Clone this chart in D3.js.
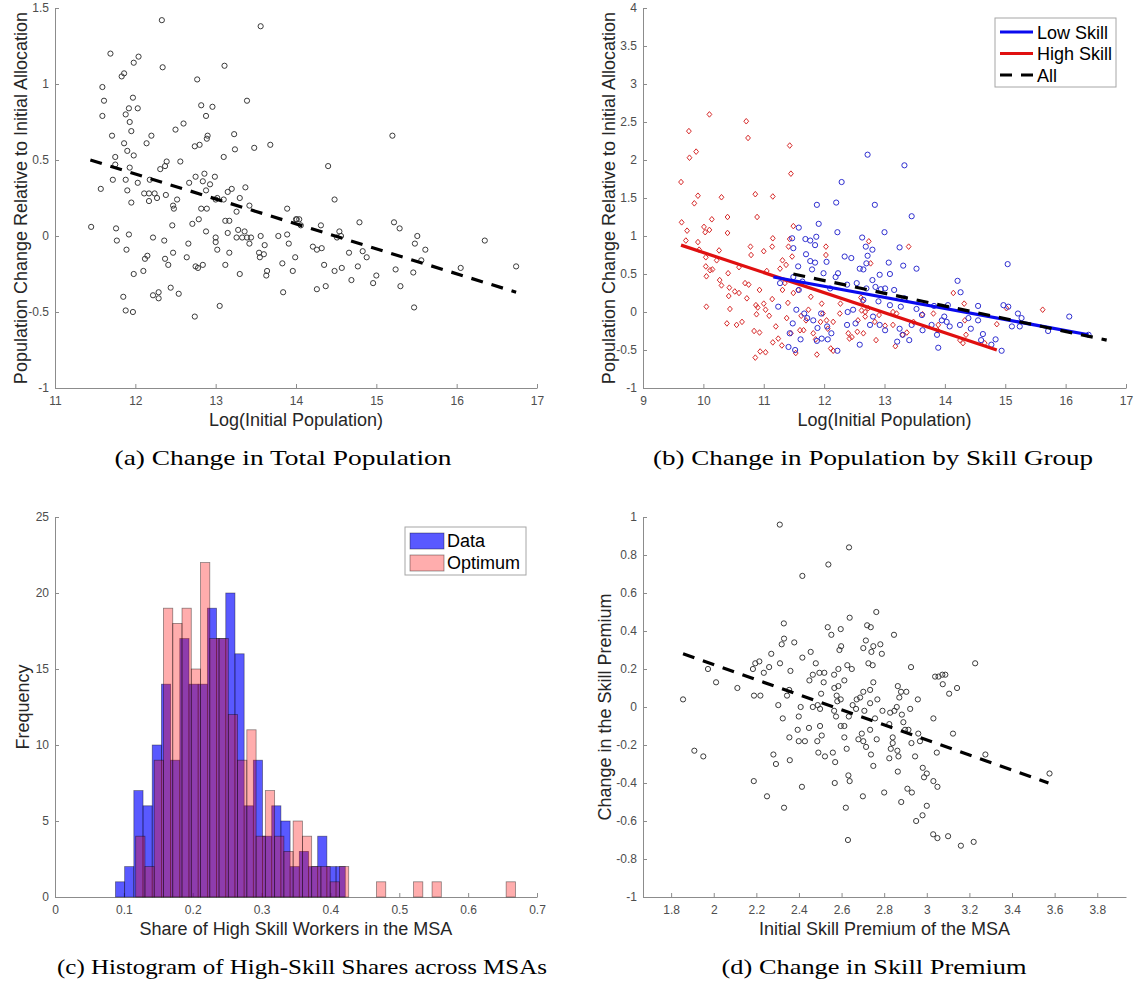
<!DOCTYPE html>
<html>
<head>
<meta charset="utf-8">
<script src="https://cdn.jsdelivr.net/npm/d3@7"></script>
<style>
  body { margin: 0; background: #fff; }
  svg { display: block; }
</style>
</head>
<body>
<script>
// ---- data ----
// (a) change in total population vs log initial population
var popTotal = [
  [12.33,1.42],[13.56,1.38],[11.69,1.20],[12.04,1.18],[11.98,1.14],[11.86,1.07],[11.83,1.05],[12.34,1.11],[13.11,1.12],[12.77,1.03],
  [11.59,0.98],[11.61,0.89],[11.59,0.79],[11.97,0.91],[11.92,0.84],[11.88,0.80],[12.03,0.84],[11.93,0.75],[11.95,0.69],[13.39,0.89],
  [12.82,0.86],[12.96,0.85],[12.88,0.79],[12.60,0.74],[12.50,0.70],[11.71,0.66],[12.20,0.66],[12.14,0.61],[11.86,0.61],[11.90,0.56],
  [11.98,0.53],[11.75,0.52],[12.90,0.66],[12.89,0.64],[12.74,0.59],[12.80,0.60],[13.23,0.67],[13.24,0.57],[13.48,0.58],[13.68,0.60],
  [13.10,0.52],[11.75,0.47],[11.93,0.45],[11.72,0.37],[11.88,0.37],[11.57,0.31],[12.03,0.35],[11.90,0.30],[11.95,0.22],[12.11,0.28],
  [12.17,0.28],[12.24,0.28],[12.17,0.23],[12.27,0.25],[12.18,0.37],[12.31,0.44],[12.37,0.46],[12.39,0.49],[12.56,0.49],[12.38,0.27],
  [12.47,0.20],[12.52,0.24],[12.48,0.18],[12.67,0.35],[12.75,0.39],[12.86,0.41],[12.84,0.36],[12.93,0.34],[12.99,0.39],[12.88,0.30],
  [12.89,0.18],[12.82,0.18],[13.00,0.24],[13.10,0.24],[13.02,0.25],[13.15,0.29],[13.20,0.31],[13.37,0.32],[13.30,0.25],[13.42,0.20],
  [13.26,0.16],[13.12,0.10],[13.17,0.10],[12.79,0.11],[12.71,0.08],[12.46,0.07],[11.45,0.06],[11.76,0.05],[11.92,0.01],[11.77,-0.03],
  [11.89,-0.09],[12.22,-0.01],[12.36,-0.03],[12.66,-0.05],[12.88,0.03],[13.00,-0.01],[13.00,-0.04],[13.02,-0.09],[13.17,-0.11],[13.15,0.02],
  [13.26,-0.01],[13.28,0.04],[13.33,-0.01],[13.36,0.03],[13.39,-0.01],[13.44,-0.01],[13.42,-0.05],[13.56,0.00],[13.78,0.00],[13.89,0.01],
  [13.91,-0.05],[13.89,0.18],[14.01,0.11],[13.61,-0.06],[13.54,-0.11],[13.60,-0.12],[13.55,-0.14],[12.47,-0.11],[12.37,-0.15],[12.41,-0.19],
  [12.64,-0.14],[12.15,-0.13],[12.12,-0.15],[11.98,-0.25],[12.10,-0.23],[12.75,-0.20],[12.78,-0.21],[12.84,-0.19],[13.12,-0.19],[13.30,-0.25],
  [13.64,-0.23],[13.63,-0.26],[13.83,-0.18],[13.96,-0.23],[13.99,-0.14],[13.84,-0.37],[12.44,-0.34],[12.22,-0.39],[12.29,-0.37],[12.29,-0.41],
  [12.54,-0.38],[11.85,-0.40],[11.88,-0.49],[11.97,-0.50],[13.05,-0.46],[12.74,-0.53],
  [15.20,0.66],[14.40,0.46],[14.48,0.24],[14.00,0.11],[14.04,0.11],[14.06,0.07],[14.31,0.07],[14.54,0.03],[14.79,0.09],[15.22,0.09],
  [15.29,0.05],[15.51,0.00],[15.48,-0.05],[15.61,-0.09],[16.35,-0.03],[16.74,-0.20],[16.05,-0.21],[14.51,-0.01],[14.56,0.00],[14.21,-0.07],
  [14.26,-0.09],[14.32,-0.08],[14.35,-0.19],[14.48,-0.23],[14.57,-0.21],[14.66,-0.11],[14.83,-0.10],[14.88,-0.14],[14.77,-0.20],[15.00,-0.26],
  [14.96,-0.31],[14.69,-0.29],[14.26,-0.35],[14.37,-0.33],[15.24,-0.22],[15.30,-0.33],[15.46,-0.24],[15.56,-0.16],[15.47,-0.47]
];
var fitTotal = [[11.44,0.50],[16.74,-0.37]];

// (b) change by skill group
var highSkill = [
  [9.63,1.71],[9.64,1.18],[9.73,1.07],[9.71,0.94],[9.76,2.38],[9.77,2.03],[9.88,2.11],[9.85,1.43],[9.91,1.53],[9.91,0.92],
  [9.93,0.82],[10.10,2.60],[10.01,1.12],[10.03,1.05],[10.10,1.08],[10.14,1.22],[10.04,0.72],[10.04,0.60],[10.05,0.47],[10.11,0.55],
  [10.15,0.56],[10.05,0.07],[10.26,0.81],[10.22,0.68],[10.30,1.51],[10.40,1.25],[10.40,1.04],[10.27,0.42],[10.30,0.35],[10.43,0.32],
  [10.41,0.51],[10.44,0.04],[10.39,-0.15],[10.42,0.21],[10.52,0.27],[10.59,0.25],[10.64,-0.13],[10.55,-0.17],[10.59,0.59],[10.71,2.51],
  [10.74,2.29],[10.78,0.86],[10.79,0.75],[10.69,0.38],[10.75,0.36],[10.72,0.18],[10.86,1.55],[10.89,1.25],[10.93,0.29],[10.87,0.09],
  [10.90,0.06],[10.88,-0.03],[10.84,-0.25],[10.93,-0.27],[10.94,-0.52],[10.86,-0.60],[11.03,-0.53],[11.00,0.80],[11.00,0.11],[11.03,0.03],
  [11.09,-0.05],[11.15,1.52],[11.14,0.86],[11.15,0.97],[11.05,0.54],[11.14,0.17],[11.20,-0.19],[11.15,-0.40],[11.24,-0.35],[11.30,-0.44],
  [11.27,0.57],[11.31,0.68],[11.35,0.38],[11.31,0.29],[11.43,2.19],[11.45,1.82],[11.43,0.96],[11.49,1.13],[11.41,0.86],[11.47,0.73],
  [11.37,0.62],[11.40,0.12],[11.38,-0.08],[11.45,-0.28],[11.53,-0.54],[11.49,0.25],[11.57,0.29],[11.62,-0.05],[11.60,-0.24],[11.66,-0.24],
  [11.70,-0.11],[11.78,0.20],[11.74,0.03],[11.82,-0.28],[11.86,-0.36],[11.88,-0.56],[11.94,-0.13],[11.98,-0.02],[11.96,0.11],[12.03,0.86],
  [12.03,0.75],[12.06,-0.22],[12.04,-0.11],[12.15,-0.13],[12.11,-0.48],[12.15,-0.51],[12.27,0.11],[12.26,-0.02],[12.40,-0.28],[12.42,-0.35],
  [12.46,-0.33],[12.56,-0.11],[12.55,-0.26],[12.61,0.19],[12.68,0.00],[12.73,0.05],[12.74,0.93],[13.40,0.86],[12.77,0.64],[14.14,0.25],
  [14.32,0.11],[15.62,0.03],[15.02,0.05],[14.86,-0.16],[14.33,-0.11],[14.35,-0.30],[14.25,-0.37],[13.88,-0.24],[13.89,-0.17],[13.81,-0.02],
  [13.63,-0.03],[13.48,-0.13],[13.37,-0.27],[13.30,-0.30],[13.18,-0.45],[12.86,-0.37],[13.14,-0.17],[13.01,-0.18],[12.84,-0.13],[13.14,0.00],
  [13.20,-0.02],[12.91,-0.04],[12.68,-0.06],[12.65,-0.28],[12.64,0.14],[12.62,0.02],[14.30,-0.41],[14.66,-0.41]
];
var lowSkill = [
  [11.24,0.07],[11.27,0.38],[11.47,0.97],[11.49,0.84],[11.58,1.11],[11.57,0.60],[11.49,0.46],[11.64,0.40],[11.58,0.29],[11.54,0.03],
  [11.48,-0.15],[11.43,-0.28],[11.41,-0.46],[11.52,-0.50],[11.61,-0.36],[11.69,0.96],[11.77,0.94],[11.70,0.76],[11.77,0.67],[11.80,0.56],
  [11.85,0.88],[11.87,0.99],[11.88,1.41],[11.91,1.16],[11.85,0.65],[11.67,-0.02],[11.72,-0.08],[11.82,-0.11],[11.89,-0.21],[11.95,-0.02],
  [11.96,-0.35],[11.88,-0.38],[12.04,0.66],[11.99,0.51],[12.10,0.31],[12.05,-0.19],[12.12,-0.28],[12.06,-0.36],[12.20,1.44],[12.22,1.05],
  [12.23,0.51],[12.19,0.46],[12.22,-0.51],[12.29,1.71],[12.34,0.73],[12.45,0.71],[12.38,0.36],[12.39,0.00],[12.38,-0.17],[12.48,0.03],
  [12.52,-0.15],[12.54,0.38],[12.59,-0.43],[12.63,0.98],[12.59,0.57],[12.69,0.86],[12.70,0.64],[12.72,2.07],[13.33,1.93],[12.84,1.41],
  [13.45,1.26],[13.00,1.05],[13.25,0.85],[12.72,0.74],[12.80,0.82],[13.07,0.65],[13.31,0.61],[13.53,0.57],[12.65,0.56],[12.80,0.42],
  [12.92,0.49],[13.09,0.50],[15.04,0.63],[14.21,0.41],[14.26,0.26],[12.70,0.31],[12.85,0.33],[12.94,0.30],[13.01,0.31],[13.16,0.29],
  [13.33,0.18],[12.65,0.16],[12.90,0.14],[13.09,0.09],[13.27,0.07],[13.53,0.04],[13.62,-0.04],[13.82,0.08],[14.05,0.09],[14.55,0.08],
  [14.97,0.09],[15.05,0.07],[15.21,-0.02],[15.27,-0.08],[16.06,-0.06],[15.71,-0.25],[15.11,-0.19],[15.24,-0.19],[13.99,-0.06],[13.95,-0.11],
  [14.03,-0.13],[14.25,-0.17],[14.39,-0.08],[14.55,-0.11],[14.43,-0.22],[14.08,-0.19],[13.78,-0.17],[13.63,-0.24],[13.45,-0.17],[13.25,-0.22],
  [13.30,-0.30],[13.21,-0.39],[13.41,-0.37],[13.87,-0.30],[13.89,-0.47],[14.63,-0.29],[14.60,-0.37],[14.77,-0.43],[14.84,-0.36],[14.94,-0.51],
  [12.81,-0.06],[12.92,-0.17],[12.76,-0.17],[13.01,-0.24],[16.38,-0.30]
];
var fitHigh = [[9.63,0.88],[14.86,-0.50]];
var fitLow = [[11.16,0.46],[16.38,-0.30]];
var fitAll = [[11.49,0.50],[16.68,-0.37]];
var skillNames = ["Low Skill", "High Skill", "All"];

// (c) histogram of high-skill shares: bin counts, first edge, bin width
var dataCounts = [1,2,7,6,10,14,9,17,14,14,19,17,20,16,6,9,4,6,5,2,3,2,4,2,2];
var dataBinStart = 0.0878, dataBinWidth = 0.01335;
var optCounts = [4,2,9,19,18,19,15,22,17,17,12,9,11,4,7,4,3,5,4,2,2,1,2,0,0,0,1,0,0,0,1,0,1,0,0,0,0,0,0,0,1];
var optBinStart = 0.1172, optBinWidth = 0.01345;
var histNames = ["Data", "Optimum"];

// (d) change in skill premium vs initial skill premium
var premium = [
  [1.856,0.04],[1.909,-0.23],[1.951,-0.26],[1.973,0.20],[2.011,0.13],[2.111,0.10],[2.184,0.20],[2.195,0.23],[2.214,0.24],[2.189,0.06],
  [2.219,0.06],[2.235,0.18],[2.260,0.21],[2.270,0.28],[2.310,0.96],[2.329,0.44],[2.330,0.36],[2.319,0.33],[2.311,0.23],[2.378,0.34],
  [2.303,0.01],[2.324,-0.06],[2.344,0.06],[2.354,0.09],[2.360,0.19],[2.416,0.69],[2.416,0.26],[2.408,0.00],[2.399,-0.05],[2.394,-0.12],
  [2.399,-0.18],[2.428,-0.18],[2.355,-0.16],[2.357,-0.28],[2.280,-0.25],[2.292,-0.30],[2.188,-0.39],[2.414,-0.42],[2.455,0.29],[2.449,0.14],
  [2.465,0.17],[2.479,0.23],[2.496,0.18],[2.519,0.18],[2.516,0.13],[2.504,0.07],[2.465,0.00],[2.488,0.01],[2.499,-0.01],[2.447,-0.11],
  [2.499,-0.10],[2.507,-0.15],[2.486,-0.18],[2.491,-0.24],[2.522,-0.26],[2.559,-0.24],[2.570,-0.29],[2.568,-0.40],[2.538,0.75],[2.535,0.42],
  [2.552,0.38],[2.596,0.41],[2.598,0.32],[2.590,0.30],[2.585,0.20],[2.565,0.17],[2.566,0.10],[2.585,0.11],[2.577,0.06],[2.596,0.04],
  [2.580,0.03],[2.565,-0.02],[2.574,-0.05],[2.596,-0.10],[2.613,-0.10],[2.613,-0.16],[2.624,-0.22],[2.613,0.14],[2.635,0.84],[2.638,0.47],
  [2.627,0.22],[2.648,0.20],[2.634,-0.05],[2.632,-0.36],[2.638,-0.39],[2.763,0.50],[2.720,0.43],[2.737,0.42],[2.846,0.38],[2.714,0.35],
  [2.702,0.31],[2.749,0.32],[2.782,0.33],[2.740,0.29],[2.789,0.28],[2.726,0.23],[2.746,0.22],[2.926,0.21],[3.227,0.23],[2.749,0.13],
  [2.734,0.09],[2.702,0.08],[2.687,0.05],[2.671,0.04],[2.652,0.01],[2.668,-0.01],[2.707,-0.02],[2.734,0.02],[2.768,0.04],[2.864,0.11],
  [2.879,0.08],[2.904,0.08],[2.871,0.05],[2.958,0.04],[2.922,-0.01],[3.039,0.16],[3.055,0.16],[3.073,0.17],[3.087,0.17],[3.075,0.12],
  [3.105,0.07],[3.142,0.10],[2.792,-0.02],[2.757,-0.06],[2.828,-0.03],[2.848,-0.02],[2.859,0.00],[2.883,-0.04],[2.824,-0.09],[2.890,-0.08],
  [2.898,-0.12],[2.914,-0.12],[2.960,-0.14],[2.968,-0.18],[2.928,-0.19],[3.031,-0.06],[2.734,-0.12],[2.695,-0.14],[2.679,-0.17],[2.702,-0.18],
  [2.715,-0.21],[2.738,-0.25],[2.749,-0.31],[2.765,-0.17],[2.840,-0.16],[2.840,-0.19],[2.831,-0.22],[2.862,-0.23],[2.867,-0.26],[2.824,-0.27],
  [2.864,-0.34],[2.945,-0.26],[3.047,-0.24],[3.123,-0.14],[2.981,-0.32],[3.000,-0.35],[2.987,-0.37],[3.031,-0.39],[3.050,-0.42],[3.275,-0.25],
  [3.576,-0.35],[2.909,-0.43],[2.25,-0.47],[2.33,-0.53],[2.62,-0.53],[2.63,-0.70],[2.70,-0.47],[2.80,-0.45],[2.88,-0.50],[2.95,-0.60],
  [2.98,-0.57],[3.03,-0.67],[3.05,-0.69],[3.10,-0.68],[3.16,-0.73],[3.22,-0.71],[2.93,-0.45],[3.00,-0.52]
];
var fitPremium = [[1.856,0.28],[3.571,-0.40]];

// tick values
var ticksAx = [11,12,13,14,15,16,17], ticksAy = [-1,-0.5,0,0.5,1,1.5];
var ticksBx = [9,10,11,12,13,14,15,16,17], ticksBy = [-1,-0.5,0,0.5,1,1.5,2,2.5,3,3.5,4];
var ticksCx = [0,0.1,0.2,0.3,0.4,0.5,0.6,0.7], ticksCy = [0,5,10,15,20,25];
var ticksDx = [1.8,2,2.2,2.4,2.6,2.8,3,3.2,3.4,3.6,3.8], ticksDy = [-1,-0.8,-0.6,-0.4,-0.2,0,0.2,0.4,0.6,0.8,1];

// ---- drawing ----
var svg = d3.select("body").append("svg").attr("width", 1134).attr("height", 988);
var sans = "Arial, 'Liberation Sans', Helvetica, sans-serif";
var serif = "'Liberation Serif', 'Times New Roman', serif";
var fmt = function (d) { return String(Math.round(d * 100) / 100); };

function makeAxes(box, xDom, yDom, xTicks, yTicks) {
    var x = d3.scaleLinear().domain(xDom).range([box.left, box.right]);
    var y = d3.scaleLinear().domain(yDom).range([box.bottom, box.top]);
    var gx = svg.append("g")
        .attr("transform", "translate(0," + box.bottom + ")")
        .call(d3.axisBottom(x).tickValues(xTicks).tickFormat(fmt)
            .tickSizeInner(-4).tickSizeOuter(0).tickPadding(8));
    var gy = svg.append("g")
        .attr("transform", "translate(" + box.left + ",0)")
        .call(d3.axisLeft(y).tickValues(yTicks).tickFormat(fmt)
            .tickSizeInner(-4).tickSizeOuter(0).tickPadding(6));
    [gx, gy].forEach(function (g) {
        g.attr("font-family", sans).attr("font-size", 12);
        g.select(".domain").attr("stroke", "#8c8c8c");
        g.selectAll(".tick line").attr("stroke", "#8c8c8c");
        g.selectAll(".tick text").attr("fill", "#4d4d4d");
    });
    return { x: x, y: y };
}

function titles(box, xTitle, yTitle, yTitleX, caption, capX, capW) {
    var cx = (box.left + box.right) / 2, cy = (box.top + box.bottom) / 2;
    svg.append("text")
        .attr("x", cx).attr("y", box.bottom + 38)
        .attr("text-anchor", "middle")
        .attr("font-family", sans).attr("font-size", 18).attr("fill", "#262626")
        .text(xTitle);
    svg.append("text")
        .attr("transform", "translate(" + yTitleX + "," + cy + ") rotate(-90)")
        .attr("text-anchor", "middle")
        .attr("font-family", sans).attr("font-size", 18).attr("fill", "#262626")
        .text(yTitle);
    svg.append("text")
        .attr("x", capX - capW / 2).attr("y", box.bottom + 77)
        .attr("textLength", capW).attr("lengthAdjust", "spacingAndGlyphs")
        .attr("font-family", serif).attr("font-size", 21).attr("fill", "#000")
        .text(caption);
}

function scatter(ax, data, color) {
    svg.append("g").selectAll("circle")
        .data(data).enter().append("circle")
        .attr("cx", function (d) { return ax.x(d[0]); })
        .attr("cy", function (d) { return ax.y(d[1]); })
        .attr("r", 2.6)
        .attr("fill", "none")
        .attr("stroke", color)
        .attr("stroke-width", 1);
}

function fitLine(ax, pts, color, dashed) {
    var line = d3.line().x(function (d) { return ax.x(d[0]); }).y(function (d) { return ax.y(d[1]); });
    svg.append("path")
        .datum(pts)
        .attr("d", line)
        .attr("fill", "none")
        .attr("stroke", color)
        .attr("stroke-width", 3.2)
        .attr("stroke-dasharray", dashed ? "12 9" : null);
}

// (a)
var boxA = { left: 55, right: 537, top: 8, bottom: 388 };
var axA = makeAxes(boxA, [11, 17], [-1, 1.5], ticksAx, ticksAy);
scatter(axA, popTotal, "#3a3a3a");
fitLine(axA, fitTotal, "#000", true);
titles(boxA, "Log(Initial Population)", "Population Change Relative to Initial Allocation", 27,
    "(a) Change in Total Population", 283, 337);

// (b)
var boxB = { left: 643, right: 1126, top: 8, bottom: 388 };
var axB = makeAxes(boxB, [9, 17], [-1, 4], ticksBx, ticksBy);
var diamond = "M0,-2.8L2.4,0L0,2.8L-2.4,0Z";
svg.append("g").selectAll("path")
    .data(highSkill).enter().append("path")
    .attr("transform", function (d) { return "translate(" + axB.x(d[0]) + "," + axB.y(d[1]) + ")"; })
    .attr("d", diamond)
    .attr("fill", "none")
    .attr("stroke", "#d62a2a")
    .attr("stroke-width", 1);
scatter(axB, lowSkill, "#2f2fd0");
fitLine(axB, fitHigh, "#e01010", false);
fitLine(axB, fitLow, "#0a0aee", false);
fitLine(axB, fitAll, "#000", true);
titles(boxB, "Log(Initial Population)", "Population Change Relative to Initial Allocation", 615,
    "(b) Change in Population by Skill Group", 873, 440);

// legend (b)
var legB = svg.append("g").attr("transform", "translate(995,18)");
legB.append("rect").attr("width", 121).attr("height", 69)
    .attr("fill", "#fff").attr("stroke", "#a6a6a6").attr("stroke-width", 1);
var legColors = ["#0a0aee", "#e01010", "#000"];
skillNames.forEach(function (name, i) {
    var yy = 14 + i * 21.5;
    legB.append("line").attr("x1", 5).attr("x2", 38).attr("y1", yy).attr("y2", yy)
        .attr("stroke", legColors[i]).attr("stroke-width", 3.2)
        .attr("stroke-dasharray", i === 2 ? "12 9" : null);
    legB.append("text").attr("x", 42).attr("y", yy + 6.5)
        .attr("font-family", sans).attr("font-size", 18).attr("fill", "#000")
        .text(name);
});

// (c)
var boxC = { left: 55, right: 537, top: 517, bottom: 897 };
var axC = makeAxes(boxC, [0, 0.7], [0, 25], ticksCx, ticksCy);
function histBars(counts, start, width, fill, fillOp) {
    var bins = counts.map(function (c, i) { return { x0: start + i * width, x1: start + (i + 1) * width, n: c }; })
        .filter(function (b) { return b.n > 0; });
    svg.append("g").selectAll("rect")
        .data(bins).enter().append("rect")
        .attr("x", function (d) { return axC.x(d.x0); })
        .attr("width", function (d) { return axC.x(d.x1) - axC.x(d.x0); })
        .attr("y", function (d) { return axC.y(d.n); })
        .attr("height", function (d) { return axC.y(0) - axC.y(d.n); })
        .attr("fill", fill).attr("fill-opacity", fillOp)
        .attr("stroke", "#000").attr("stroke-opacity", 0.45).attr("stroke-width", 0.8);
}
histBars(dataCounts, dataBinStart, dataBinWidth, "#0000ff", 0.65);
histBars(optCounts, optBinStart, optBinWidth, "#ff0000", 0.32);
titles(boxC, "Share of High Skill Workers in the MSA", "Frequency", 29,
    "(c) Histogram of High-Skill Shares across MSAs", 302, 490);

// legend (c)
var legC = svg.append("g").attr("transform", "translate(405,527)");
legC.append("rect").attr("width", 121).attr("height", 48)
    .attr("fill", "#fff").attr("stroke", "#a6a6a6").attr("stroke-width", 1);
var swatch = [["#0000ff", 0.65], ["#ff0000", 0.32]];
histNames.forEach(function (name, i) {
    var yy = 6 + i * 22;
    legC.append("rect").attr("x", 5).attr("y", yy).attr("width", 34).attr("height", 16)
        .attr("fill", swatch[i][0]).attr("fill-opacity", swatch[i][1])
        .attr("stroke", "#000").attr("stroke-opacity", 0.45).attr("stroke-width", 0.8);
    legC.append("text").attr("x", 42).attr("y", yy + 14)
        .attr("font-family", sans).attr("font-size", 18).attr("fill", "#000")
        .text(name);
});

// (d)
var boxD = { left: 643, right: 1126, top: 517, bottom: 897 };
var axD = makeAxes(boxD, [1.668, 3.935], [-1, 1], ticksDx, ticksDy);
scatter(axD, premium, "#3a3a3a");
fitLine(axD, fitPremium, "#000", true);
titles(boxD, "Initial Skill Premium of the MSA", "Change in the Skill Premium", 611,
    "(d) Change in Skill Premium", 874, 305);
</script>
</body>
</html>
